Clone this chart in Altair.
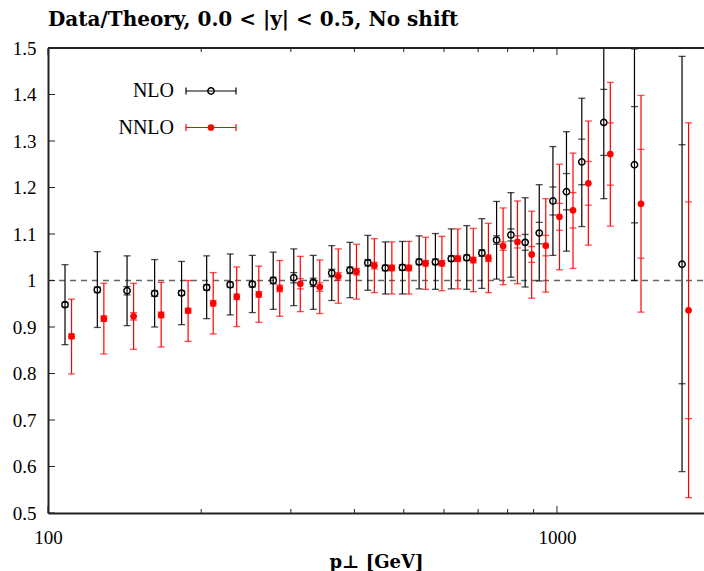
import altair as alt
import pandas as pd

# ---- data ----
pt = [108, 125, 143, 162, 183, 205, 228, 252, 277, 304, 332, 361, 392, 425, 460, 497,
      536, 577, 620, 665, 712, 761, 812, 866, 923, 982, 1044, 1119, 1236, 1420, 1761]

nlo = [0.948, 0.980, 0.978, 0.972, 0.973, 0.985, 0.991, 0.992, 1.000, 1.006, 0.996, 1.016,
       1.022, 1.038, 1.027, 1.028, 1.040, 1.040, 1.047, 1.049, 1.059, 1.087, 1.098, 1.082,
       1.102, 1.171, 1.191, 1.255, 1.340, 1.249, 1.035]
nlo_lo = [0.862, 0.899, 0.903, 0.900, 0.905, 0.918, 0.926, 0.931, 0.938, 0.946, 0.938, 0.957,
          0.963, 0.979, 0.971, 0.971, 0.982, 0.981, 0.982, 0.981, 0.983, 1.003, 1.007, 0.986,
          0.999, 1.054, 1.063, 1.116, 1.176, 1.000, 0.589]
nlo_hi = [1.034, 1.062, 1.053, 1.045, 1.041, 1.053, 1.057, 1.054, 1.061, 1.068, 1.054, 1.075,
          1.082, 1.097, 1.083, 1.084, 1.096, 1.101, 1.111, 1.118, 1.133, 1.170, 1.189, 1.178,
          1.206, 1.288, 1.320, 1.392, 1.504, 1.498, 1.482]
nlo_stat = [0.005, 0.006, 0.009, 0.006, 0.005, 0.006, 0.006, 0.006, 0.007, 0.011, 0.009, 0.008,
            0.007, 0.007, 0.006, 0.006, 0.006, 0.006, 0.006, 0.006, 0.007, 0.009, 0.013, 0.017,
            0.023, 0.030, 0.039, 0.049, 0.071, 0.125, 0.257]

nnlo = [0.880, 0.918, 0.923, 0.926, 0.935, 0.951, 0.965, 0.970, 0.983, 0.993, 0.986, 1.009,
        1.019, 1.032, 1.027, 1.027, 1.037, 1.037, 1.047, 1.044, 1.048, 1.074, 1.083, 1.056,
        1.075, 1.137, 1.151, 1.209, 1.272, 1.165, 0.936]
nnlo_lo = [0.799, 0.842, 0.852, 0.857, 0.869, 0.885, 0.901, 0.910, 0.923, 0.933, 0.929, 0.951,
           0.960, 0.974, 0.971, 0.971, 0.981, 0.978, 0.982, 0.976, 0.974, 0.991, 0.993, 0.962,
           0.975, 1.023, 1.026, 1.076, 1.117, 0.932, 0.533]
nnlo_hi = [0.960, 0.994, 0.994, 0.996, 1.000, 1.017, 1.029, 1.031, 1.043, 1.052, 1.044, 1.068,
           1.078, 1.090, 1.083, 1.084, 1.093, 1.095, 1.111, 1.112, 1.123, 1.156, 1.171, 1.149,
           1.176, 1.250, 1.274, 1.343, 1.426, 1.398, 1.339]
nnlo_stat = [0.005, 0.006, 0.008, 0.006, 0.005, 0.006, 0.006, 0.006, 0.007, 0.011, 0.009, 0.008,
             0.007, 0.007, 0.006, 0.006, 0.006, 0.006, 0.006, 0.006, 0.007, 0.009, 0.013, 0.017,
             0.022, 0.029, 0.038, 0.047, 0.067, 0.117, 0.233]

nnlo_shift = 1.03  # NNLO points drawn slightly to the right

y_ticks = [0.5, 0.6, 0.7, 0.8, 0.9, 1.0, 1.1, 1.2, 1.3, 1.4, 1.5]
x_major = [100, 1000]
x_minor = [200, 300, 400, 500, 600, 700, 800, 900]

title_text = "Data/Theory, 0.0 < |y| < 0.5, No shift"
x_title = "p\u22a5 [GeV]"

# ---- layout ----
W, H = 656, 465
FONT = "Liberation Serif"
TFONT = "DejaVu Serif"
X_MAX = 1945

def build(series_vals, lo, hi, stat, shift):
    return pd.DataFrame({
        "x": [p * shift for p in pt],
        "y": series_vals,
        "lo": lo,
        "hi": hi,
        "slo": [v - s for v, s in zip(series_vals, stat)],
        "shi": [v + s for v, s in zip(series_vals, stat)],
    })

df_nlo = build(nlo, nlo_lo, nlo_hi, nlo_stat, 1.0)
df_nnlo = build(nnlo, nnlo_lo, nnlo_hi, nnlo_stat, nnlo_shift)

xs = alt.Scale(type="log", domain=[100, X_MAX], nice=False)
ys = alt.Scale(domain=[0.5, 1.5], nice=False, zero=False)

xenc = alt.X("x:Q", scale=xs, axis=alt.Axis(
    values=x_major, format="d", ticks=False, grid=False, domainColor="#222", domainWidth=2,
    labelFont=FONT, labelFontSize=19, labelColor="#000", labelPadding=15,
    title=x_title, titleFont=TFONT, titleFontSize=18, titleFontWeight="bold",
    titleColor="#000", titlePadding=6, labelFlush=False))
yenc = alt.Y("y:Q", scale=ys, axis=alt.Axis(
    values=y_ticks, ticks=False, grid=False, domainColor="#222", domainWidth=2,
    labelExpr="datum.value == 1 ? '1' : format(datum.value, '.1f')",
    labelFont=FONT, labelFontSize=19, labelColor="#000", labelPadding=12,
    title=None, labelFlush=False))


def series_layers(df, color, filled):
    base = alt.Chart(df)
    bars = base.mark_rule(color=color, strokeWidth=1.2, clip=True).encode(
        x=xenc, y=alt.Y("lo:Q", scale=ys), y2="hi:Q")
    out = [bars]
    for f in ("lo", "hi", "slo", "shi"):
        out.append(base.mark_tick(color=color, orient="horizontal", size=7, thickness=1.3,
                                  clip=True).encode(
            x=alt.X("x:Q", scale=xs), y=alt.Y(f"{f}:Q", scale=ys)))
    if filled:
        pts = base.mark_point(shape="circle", filled=True, color=color, size=45, opacity=1).encode(
            x=alt.X("x:Q", scale=xs), y=yenc)
    else:
        pts = base.mark_point(shape="circle", filled=False, color=color, size=40, strokeWidth=1.5,
                              opacity=1).encode(x=alt.X("x:Q", scale=xs), y=yenc)
    out.append(pts)
    return out


one = pd.DataFrame({"v": [1.0]})
ref_line = alt.Chart(one).mark_rule(color="#666", strokeWidth=1.5, strokeDash=[6, 5]).encode(
    y=alt.Y("v:Q", scale=ys), x=alt.value(0), x2=alt.value(W))

top_frame = alt.Chart(one).mark_rule(color="#222", strokeWidth=2).encode(
    x=alt.value(0), x2=alt.value(W), y=alt.value(0))

yt = pd.DataFrame({"v": y_ticks})
ytick_marks = alt.Chart(yt).mark_rule(color="#222", strokeWidth=1).encode(
    y=alt.Y("v:Q", scale=ys), x=alt.value(0), x2=alt.value(7))

xmaj = pd.DataFrame({"v": x_major})
xmin = pd.DataFrame({"v": x_minor})
xt_layers = []
for d, ln in ((xmaj, 7), (xmin, 4)):
    xt_layers.append(alt.Chart(d).mark_rule(color="#222", strokeWidth=1).encode(
        x=alt.X("v:Q", scale=xs), y=alt.value(H), y2=alt.value(H - ln)))
    xt_layers.append(alt.Chart(d).mark_rule(color="#222", strokeWidth=1).encode(
        x=alt.X("v:Q", scale=xs), y=alt.value(0), y2=alt.value(ln)))

title_mark = alt.Chart(one).mark_text(
    text=title_text, font=TFONT, fontSize=20, fontWeight="bold", align="left",
    baseline="alphabetic", color="#000").encode(x=alt.value(0), y=alt.value(-22))

# legend
leg = []
for label, color, filled, yy in (("NLO", "#000", False, 43), ("NNLO", "#f00", True, 79.5)):
    leg.append(alt.Chart(one).mark_text(text=label, font=FONT, fontSize=20, align="right",
                                        baseline="middle", color="#000").encode(
        x=alt.value(126), y=alt.value(yy)))
    leg.append(alt.Chart(one).mark_rule(color=color, strokeWidth=1.2).encode(
        x=alt.value(138), x2=alt.value(188), y=alt.value(yy)))
    for xx in (138, 188):
        leg.append(alt.Chart(one).mark_rule(color=color, strokeWidth=1.2).encode(
            x=alt.value(xx), y=alt.value(yy - 3.5), y2=alt.value(yy + 3.5)))
    leg.append(alt.Chart(one).mark_point(shape="circle", filled=filled, color=color,
                                         size=40 if not filled else 45, strokeWidth=1.5,
                                         opacity=1).encode(
        x=alt.value(163), y=alt.value(yy)))

layers = ([ref_line] + series_layers(df_nlo, "#000", False) + series_layers(df_nnlo, "#f00", True)
          + [top_frame, ytick_marks] + xt_layers + [title_mark] + leg)

chart = alt.layer(*layers).properties(
    width=W, height=H,
    padding={"left": 48, "top": 48, "right": 0, "bottom": 58},
    autosize=alt.AutoSizeParams(type="none"),
).configure_view(stroke=None).configure(background="white")

chart.save("out.html", embed_options={"renderer": "svg", "actions": False})
